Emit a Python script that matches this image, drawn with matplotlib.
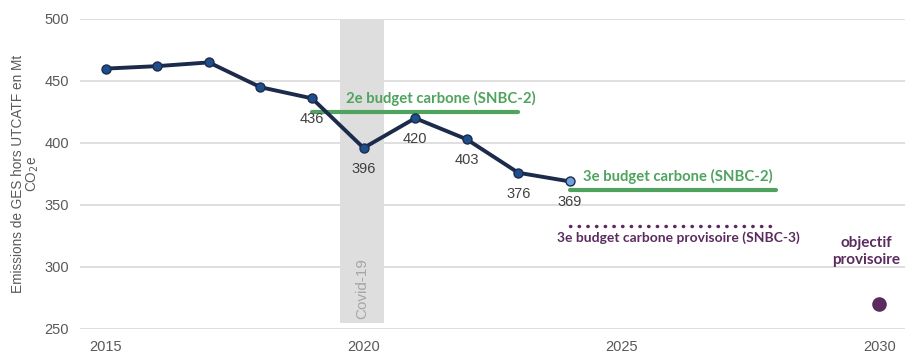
import matplotlib.pyplot as plt

# data
years = [2015, 2016, 2017, 2018, 2019, 2020, 2021, 2022, 2023, 2024]
emissions = [460, 462, 465, 445, 436, 396, 420, 403, 376, 369]
labelled_years = [2019, 2020, 2021, 2022, 2023, 2024]

budget2_years = [2019, 2023]
budget2_value = 425
budget3_years = [2024, 2028]
budget3_value = 362
budget3_prov_years = [2024, 2028]
budget3_prov_value = 333
target_year = 2030
target_value = 270
covid_span = [2019.55, 2020.4]

navy = '#1c2b4b'
green = '#4fa35e'
purple = '#5b2b60'
grey_txt = '#595959'

plt.rcParams['font.family'] = ['Liberation Sans', 'DejaVu Sans']

fig = plt.figure(figsize=(9.24, 3.55), dpi=100)
ax = fig.add_axes([80 / 924, 1 - 329 / 355, 825 / 924, 310 / 355])

# covid band
ax.axvspan(covid_span[0], covid_span[1], ymin=0.02, ymax=1.0, color='#dedede', zorder=1, lw=0)
ax.text(sum(covid_span) / 2, 258, 'Covid-19', rotation=90, ha='center', va='bottom',
        color='#a6a6a6', fontsize=11, zorder=2)

# emissions line
ax.plot(years, emissions, color=navy, lw=2.8, zorder=4)
ax.scatter(years[:-1], emissions[:-1], s=42, color='#1f4e8c', edgecolor=navy, lw=1, zorder=5)
ax.scatter(years[-1:], emissions[-1:], s=42, color='#6fa3dc', edgecolor=navy, lw=1, zorder=5)
for yr, val in zip(years, emissions):
    if yr in labelled_years:
        ax.annotate(str(val), (yr, val), xytext=(0, -10), textcoords='offset points',
                    ha='center', va='top', fontsize=10.5, color='#404040', zorder=6)

# budgets
ax.plot(budget2_years, [budget2_value] * 2, color=green, lw=3, solid_capstyle='round', zorder=3)
ax.text(sum(budget2_years) / 2 + 0.5, budget2_value + 5, '2e budget carbone (SNBC-2)',
        ha='center', va='bottom', color=green, fontsize=10.7, fontweight='bold', family='Lato')
ax.plot(budget3_years, [budget3_value] * 2, color=green, lw=3, solid_capstyle='round', zorder=3)
ax.text(sum(budget3_years) / 2 + 0.1, budget3_value + 5, '3e budget carbone (SNBC-2)',
        ha='center', va='bottom', color=green, fontsize=10.7, fontweight='bold', family='Lato')
ax.plot(budget3_prov_years, [budget3_prov_value] * 2, color=purple, lw=2.5,
        linestyle=(0, (0.1, 2.4)), dash_capstyle='round', zorder=3)
ax.text(sum(budget3_prov_years) / 2 + 0.1, budget3_prov_value - 4.5,
        '3e budget carbone provisoire (SNBC-3)', ha='center', va='top', color=purple,
        fontsize=10, fontweight='bold', family='Lato')

# 2030 target
ax.scatter([target_year], [target_value], s=90, color=purple, zorder=5)
ax.text(target_year - 0.25, 300, 'objectif\nprovisoire', ha='center', va='bottom',
        color=purple, fontsize=11, fontweight='bold', family='Lato', linespacing=1.3)

ax.set_xlim(2014.5, 2030.5)
ax.set_ylim(250, 500)
ax.set_xticks([2015, 2020, 2025, 2030])
ax.set_yticks([250, 300, 350, 400, 450, 500])
ax.grid(axis='y', color='#d9d9d9', lw=1.2, zorder=0)
ax.set_axisbelow(True)
for s in ax.spines.values():
    s.set_visible(False)
ax.tick_params(length=0, labelsize=10.5, labelcolor=grey_txt, pad=8)
ax.set_ylabel('Emissions de GES hors UTCATF en Mt\nCO$_2$e', fontsize=9.8, color=grey_txt,
              labelpad=2, linespacing=1.0)

fig.savefig('out.png', dpi=100)
